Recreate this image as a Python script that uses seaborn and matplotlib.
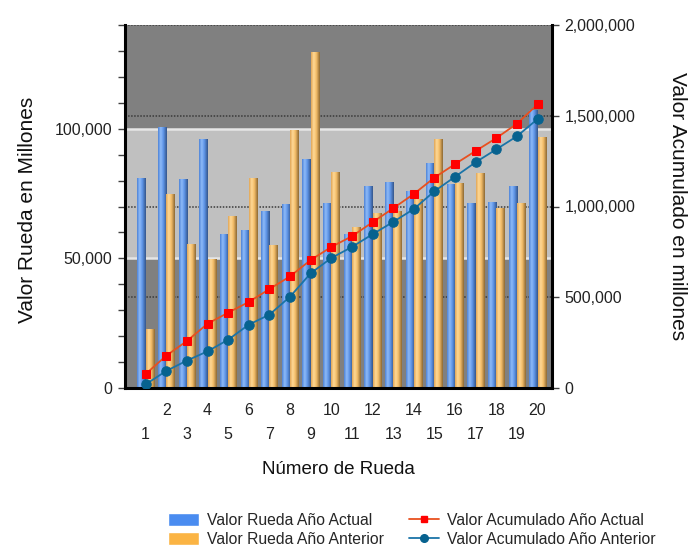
import numpy as np
import pandas as pd
import matplotlib
matplotlib.use('Agg')
import matplotlib.pyplot as plt
from matplotlib.colors import LinearSegmentedColormap
from matplotlib.lines import Line2D
from matplotlib.patches import Patch
from matplotlib.ticker import FuncFormatter, MultipleLocator
import seaborn as sns

sns.set_style('white')
plt.rcParams['font.family'] = ['Liberation Sans', 'DejaVu Sans']

# ---------------------------------------------------------------- data
RUEDA = list(range(1, 21))
RUEDA_ACTUAL = [81000, 100500, 80700, 96000, 59300, 60800, 68300, 71000, 88200, 71500,
                59400, 77900, 79300, 76000, 86800, 78700, 71200, 71900, 77900, 107200]
RUEDA_ANTERIOR = [22600, 74700, 55500, 49800, 66200, 80900, 55300, 99400, 129500, 83200,
                  62000, 67500, 68100, 72900, 95900, 78900, 82800, 69400, 71200, 96800]
ACUM_ACTUAL = [77000, 178000, 259000, 354000, 415000, 474000, 545000, 615000, 705000, 777000,
               836000, 913000, 990000, 1069000, 1159000, 1234000, 1306000, 1377000, 1456000, 1563000]
ACUM_ANTERIOR = [20000, 94000, 151000, 202000, 266000, 349000, 404000, 503000, 632000, 716000,
                 777000, 847000, 915000, 986000, 1084000, 1164000, 1244000, 1315000, 1387000, 1482000]

S_ACT, S_ANT = 'Valor Rueda Año Actual', 'Valor Rueda Año Anterior'
L_ACT, L_ANT = 'Valor Acumulado Año Actual', 'Valor Acumulado Año Anterior'
L_MAX, R_MAX = 140000, 2000000
L_TICKS = [0, 50000, 100000]
R_TICKS = [0, 500000, 1000000, 1500000, 2000000]
BANDS = [(0, 50000, '#808080'), (50000, 100000, '#c0c0c0'), (100000, L_MAX, '#808080')]

df = pd.DataFrame({'rueda': RUEDA * 2,
                   'valor': RUEDA_ACTUAL + RUEDA_ANTERIOR,
                   'serie': [S_ACT] * 20 + [S_ANT] * 20})

# ---------------------------------------------------------------- figure
fig = plt.figure(figsize=(6.89, 5.47), dpi=100)
ax = fig.add_axes([125/689, 1-388/547, 427/689, 363/547])
ax.set_facecolor('#808080')

for lo, hi, c in BANDS:
    ax.axhspan(lo, hi, color=c, zorder=0, lw=0)
for b in (50000, 100000):
    ax.axhline(b, color='#e6e6e6', lw=1.8, zorder=0.4)
for t in R_TICKS:
    ax.axhline(t * L_MAX / R_MAX, color='#3a3a3a', lw=1.1, ls=(0, (1, 1)), zorder=0.5)

sns.barplot(data=df, x='rueda', y='valor', hue='serie', hue_order=[S_ACT, S_ANT],
            palette={S_ACT: '#6a9be6', S_ANT: '#f5be6a'}, native_scale=True,
            width=0.8, gap=0, saturation=1, legend=False, ax=ax, zorder=2,
            linewidth=0, edgecolor='none')

# cylinder-like shading on the bars
cm_blue = LinearSegmentedColormap.from_list('b', [(0, '#4d82d6'), (0.3, '#8fbbf8'),
                                                  (0.6, '#5e95e8'), (1, '#34558a')])
cm_orng = LinearSegmentedColormap.from_list('o', [(0, '#e0a556'), (0.3, '#ffd996'),
                                                  (0.6, '#f4bd68'), (1, '#8c6833')])
grad = np.linspace(0, 1, 64).reshape(1, -1)
for cont, cm in zip(ax.containers, [cm_blue, cm_orng]):
    for bar in cont:
        x0, w, h = bar.get_x(), bar.get_width(), bar.get_height()
        im = ax.imshow(grad, extent=[x0, x0 + w, 0, h], aspect='auto', cmap=cm,
                       zorder=2.1, interpolation='bilinear')
        im.set_clip_path(bar)

ax.set_xlim(0, 20.7)
ax.set_ylim(0, L_MAX)
ax.set_xticks(RUEDA)
ax.set_xticklabels([str(n) if n % 2 == 0 else '\n' + str(n) for n in RUEDA],
                   linespacing=1.72, fontsize=11.5)
ax.set_yticks(L_TICKS)
ax.yaxis.set_minor_locator(MultipleLocator(10000))
ax.yaxis.set_major_formatter(FuncFormatter(lambda v, _: f'{v:,.0f}'))
ax.tick_params(axis='both', which='both', direction='out', length=5, width=1,
               color='#404040', labelcolor='#222222', labelsize=11.5, pad=4)
ax.tick_params(axis='x', pad=6)
ax.tick_params(axis='y', which='minor', length=5)

ax.set_xlabel('Número de Rueda', fontsize=13.5, color='#111111')
ax.xaxis.set_label_coords(0.5, -0.2)
ax.set_ylabel('Valor Rueda en Millones', fontsize=15, color='#111111', va='center')
ax.yaxis.set_label_coords((28-125)/427, 0.49)

for s in ['top', 'right']:
    ax.spines[s].set_visible(False)
for s in ['left', 'bottom']:
    ax.spines[s].set_linewidth(2.2)
    ax.spines[s].set_color('black')

# ---------------------------------------------------------------- accumulated lines
ax2 = ax.twinx()
sns.lineplot(x=RUEDA, y=ACUM_ACTUAL, ax=ax2, color='#e8501f', lw=1.3, marker='s',
             markersize=5.2, markerfacecolor='#ff0000', markeredgecolor='#ff0000')
sns.lineplot(x=RUEDA, y=ACUM_ANTERIOR, ax=ax2, color='#1a74a8', lw=1.3, marker='o',
             markersize=6.8, markerfacecolor='#07628f', markeredgecolor='#07628f')
ax2.set_ylim(0, R_MAX)
ax2.set_xlim(0, 20.7)
ax2.set_yticks(R_TICKS)
ax2.yaxis.set_major_formatter(FuncFormatter(lambda v, _: f'{v:,.0f}'))
ax2.tick_params(axis='y', direction='out', length=5, width=1, color='#404040',
                labelcolor='#222222', labelsize=11.5, pad=4)
ax2.set_ylabel('Valor Acumulado en millones', fontsize=15, color='#111111',
               rotation=270, va='center')
ax2.yaxis.set_label_coords((677-125)/427, 0.5)
for s in ['top', 'left', 'bottom']:
    ax2.spines[s].set_visible(False)
ax2.spines['right'].set_linewidth(2.2)
ax2.spines['right'].set_color('black')

# ---------------------------------------------------------------- legend
handles = [Patch(facecolor='#4a8cf0', label=S_ACT),
           Patch(facecolor='#fbb444', label=S_ANT),
           Line2D([], [], color='#e8501f', lw=1.3, marker='s', ms=4,
                  mfc='#ff0000', mec='#ff0000', label=L_ACT),
           Line2D([], [], color='#1a74a8', lw=1.3, marker='o', ms=5.5,
                  mfc='#07628f', mec='#07628f', label=L_ANT)]
fig.legend(handles=handles, ncol=2, loc='center', bbox_to_anchor=(412/689, 1-530/547),
           frameon=False, fontsize=11.3, handlelength=1.95, handleheight=0.9,
           handletextpad=0.5, columnspacing=1.6, labelspacing=0.3)

fig.savefig('out.png', dpi=100)
